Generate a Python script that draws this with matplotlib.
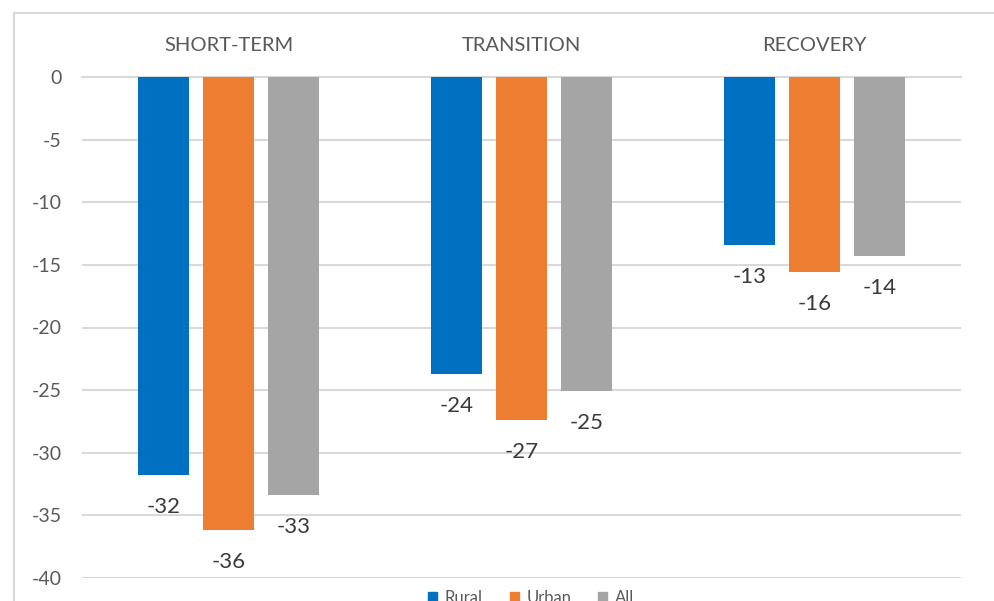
import numpy as np
import matplotlib
matplotlib.use("Agg")
import matplotlib.pyplot as plt
from matplotlib.patches import Patch, Rectangle

# -------------------------------
# Datos
# -------------------------------
categorias = ["SHORT-TERM", "TRANSITION", "RECOVERY"]
series = ["Rural", "Urban", "All"]
rural = [-31.8, -23.7, -13.4]
urban = [-36.2, -27.4, -15.6]
todos = [-33.4, -25.1, -14.3]
yticks = [0, -5, -10, -15, -20, -25, -30, -35, -40]

colores = ["#0070C0", "#ED7D31", "#A5A5A5"]

plt.rcParams["font.family"] = ["Lato", "DejaVu Sans"]

# -------------------------------
# Figura
# -------------------------------
fig = plt.figure(figsize=(9.94, 6.01), dpi=100)
W, H = 994, 601

# marco exterior del gráfico
fig.patches.append(Rectangle((14 / W, -0.1), 1.2, (601 - 13) / H + 0.1,
                             transform=fig.transFigure, fill=False,
                             edgecolor="#d9d9d9", linewidth=1.5))

ax = fig.add_axes([82 / W, (601 - 578) / H, (961 - 82) / W, (578 - 77) / H])

x = np.arange(len(categorias))
ancho = 0.174
paso = 0.222

for i, (nombre, valores) in enumerate(zip(series, [rural, urban, todos])):
    pos = x + (i - 1) * paso
    bars = ax.bar(pos, valores, width=ancho, color=colores[i], zorder=3)
    for b, v in zip(bars, valores):
        ax.annotate(f"{v:.0f}", (b.get_x() + b.get_width() / 2, v),
                    xytext=(0, -23), textcoords="offset points",
                    ha="center", va="center", fontsize=16,
                    color="#3a3a3a")

ax.set_xlim(-0.5, 2.5)
ax.set_ylim(-40, 0)
ax.set_yticks(yticks)
ax.set_yticklabels([str(t) for t in yticks])
ax.yaxis.grid(True, color="#d9d9d9", linewidth=1.5, zorder=0)
ax.set_axisbelow(True)

ax.xaxis.tick_top()
ax.set_xticks(x)
ax.set_xticklabels(categorias)
ax.tick_params(axis="x", length=0, pad=16.5, labelsize=14.5,
               labelcolor="#595959")
ax.tick_params(axis="y", length=0, pad=14.4, labelsize=14,
               labelcolor="#595959")

for s in ax.spines.values():
    s.set_visible(False)
ax.spines["top"].set_visible(True)
ax.spines["top"].set_color("#d9d9d9")
ax.spines["top"].set_linewidth(1.5)

# leyenda (cortada en la parte inferior, como en el original)
handles = [Patch(color=c, label=n) for c, n in zip(colores, series)]
fig.legend(handles=handles, loc="center", bbox_to_anchor=(531 / W, 1 - 598 / H),
           ncol=3, frameon=False, fontsize=12, labelcolor="#595959",
           handlelength=0.55, handleheight=0.55, handletextpad=0.45,
           columnspacing=1.6)

fig.savefig("out.png", dpi=100)
